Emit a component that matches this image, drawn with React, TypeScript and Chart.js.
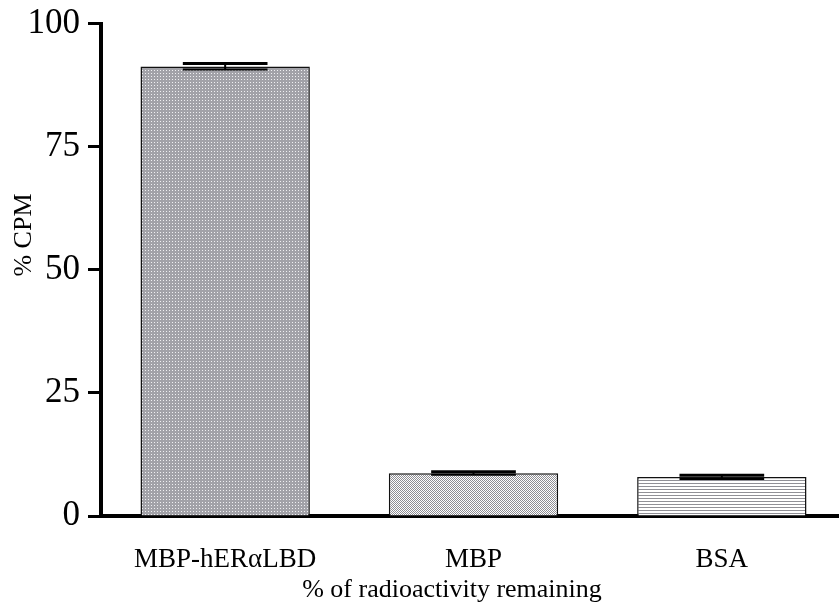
import React, { useEffect, useRef } from "react";
import { Chart, registerables } from "chart.js";

Chart.register(...registerables);

const categories = ["MBP-hERαLBD", "MBP", "BSA"];
const meanValues = [91.3, 8.7, 7.9];
const errorValues = [0.6, 0.3, 0.4];
const yTickValues = [0, 25, 50, 75, 100];
const yTitle = "% CPM";
const xTitle = "% of radioactivity remaining";

const FONT = "'Liberation Serif', 'Times New Roman', serif";

function makePattern(kind: string): CanvasPattern | string {
  const c = document.createElement("canvas");
  const ctx = c.getContext("2d");
  if (!ctx) return "#aaa";
  if (kind === "dots") {
    c.width = 3; c.height = 3;
    ctx.fillStyle = "#a2a2a8";
    ctx.fillRect(0, 0, 3, 3);
    ctx.fillStyle = "#f0f0f2";
    ctx.fillRect(1, 1, 1, 1);
  } else if (kind === "checker") {
    c.width = 2; c.height = 2;
    ctx.fillStyle = "#ffffff";
    ctx.fillRect(0, 0, 2, 2);
    ctx.fillStyle = "#8e8e94";
    ctx.fillRect(0, 0, 1, 1);
    ctx.fillRect(1, 1, 1, 1);
  } else {
    c.width = 3; c.height = 3;
    ctx.fillStyle = "#ffffff";
    ctx.fillRect(0, 0, 3, 3);
    ctx.fillStyle = "#909096";
    ctx.fillRect(0, 0, 3, 1);
  }
  return ctx.createPattern(c, "repeat") || "#aaa";
}

const errorBarPlugin = {
  id: "errorBars",
  afterDatasetsDraw(chart: any) {
    const ctx = chart.ctx;
    const meta = chart.getDatasetMeta(0);
    const yScale = chart.scales.y;
    ctx.save();
    ctx.strokeStyle = "#000";
    meta.data.forEach((bar: any, i: number) => {
      const x = bar.x;
      const half = bar.width / 4;
      const yTop = yScale.getPixelForValue(meanValues[i] + errorValues[i]);
      const yBot = yScale.getPixelForValue(meanValues[i] - errorValues[i]);
      ctx.lineWidth = 2;
      ctx.beginPath();
      ctx.moveTo(x, yTop);
      ctx.lineTo(x, yBot);
      ctx.stroke();
      ctx.lineWidth = 3;
      ctx.beginPath();
      ctx.moveTo(x - half, yTop);
      ctx.lineTo(x + half, yTop);
      ctx.stroke();
      ctx.lineWidth = 2;
      ctx.beginPath();
      ctx.moveTo(x - half, yBot);
      ctx.lineTo(x + half, yBot);
      ctx.stroke();
    });
    ctx.restore();
  },
};

const titlesPlugin = {
  id: "axisTitles",
  afterDraw(chart: any) {
    const ctx = chart.ctx;
    ctx.save();
    ctx.fillStyle = "#000";
    ctx.font = `26px ${FONT}`;
    ctx.textAlign = "center";
    ctx.textBaseline = "middle";
    ctx.fillText(xTitle, 452, 590);
    ctx.translate(24, 235);
    ctx.rotate(-Math.PI / 2);
    ctx.fillText(yTitle, 0, 0);
    ctx.restore();
  },
};

export default function App() {
  const ref = useRef<HTMLCanvasElement | null>(null);
  useEffect(() => {
    if (!ref.current) return;
    const fills = [makePattern("dots"), makePattern("checker"), makePattern("lines")];
    const chart = new Chart(ref.current, {
      type: "bar",
      data: {
        labels: categories,
        datasets: [
          {
            data: meanValues,
            backgroundColor: fills as any,
            borderColor: "#111",
            borderWidth: 1.5,
            barPercentage: 0.682,
            categoryPercentage: 1,
          },
        ],
      },
      plugins: [errorBarPlugin, titlesPlugin],
      options: {
        responsive: false,
        animation: false,
        layout: { padding: { top: 20, right: 0, bottom: 0, left: 0 } },
        plugins: { legend: { display: false }, tooltip: { enabled: false } },
        scales: {
          x: {
            grid: { display: false },
            border: { display: true, color: "#000", width: 4 },
            ticks: {
              color: "#000",
              padding: 20,
              font: { family: FONT, size: 27 },
            },
            afterFit: (s: any) => { s.height = 93; },
          },
          y: {
            min: 0,
            max: 100,
            afterBuildTicks: (s: any) => { s.ticks = yTickValues.map((v) => ({ value: v })); },
            grid: {
              display: true,
              drawOnChartArea: false,
              drawTicks: true,
              tickLength: 13,
              tickWidth: 3,
              color: "#000",
            },
            border: { display: true, color: "#000", width: 4 },
            ticks: {
              color: "#000",
              padding: 8,
              font: { family: FONT, size: 35, lineHeight: 0.9 },
            },
            afterFit: (s: any) => { s.width = 101; },
          },
        },
      },
    });
    return () => chart.destroy();
  }, []);
  return (
    <div style={{ position: "fixed", left: 0, top: 0, width: 839, height: 609, overflow: "hidden", background: "#fff" }}>
      <canvas ref={ref} width={846} height={609} style={{ display: "block" }} />
    </div>
  );
}
